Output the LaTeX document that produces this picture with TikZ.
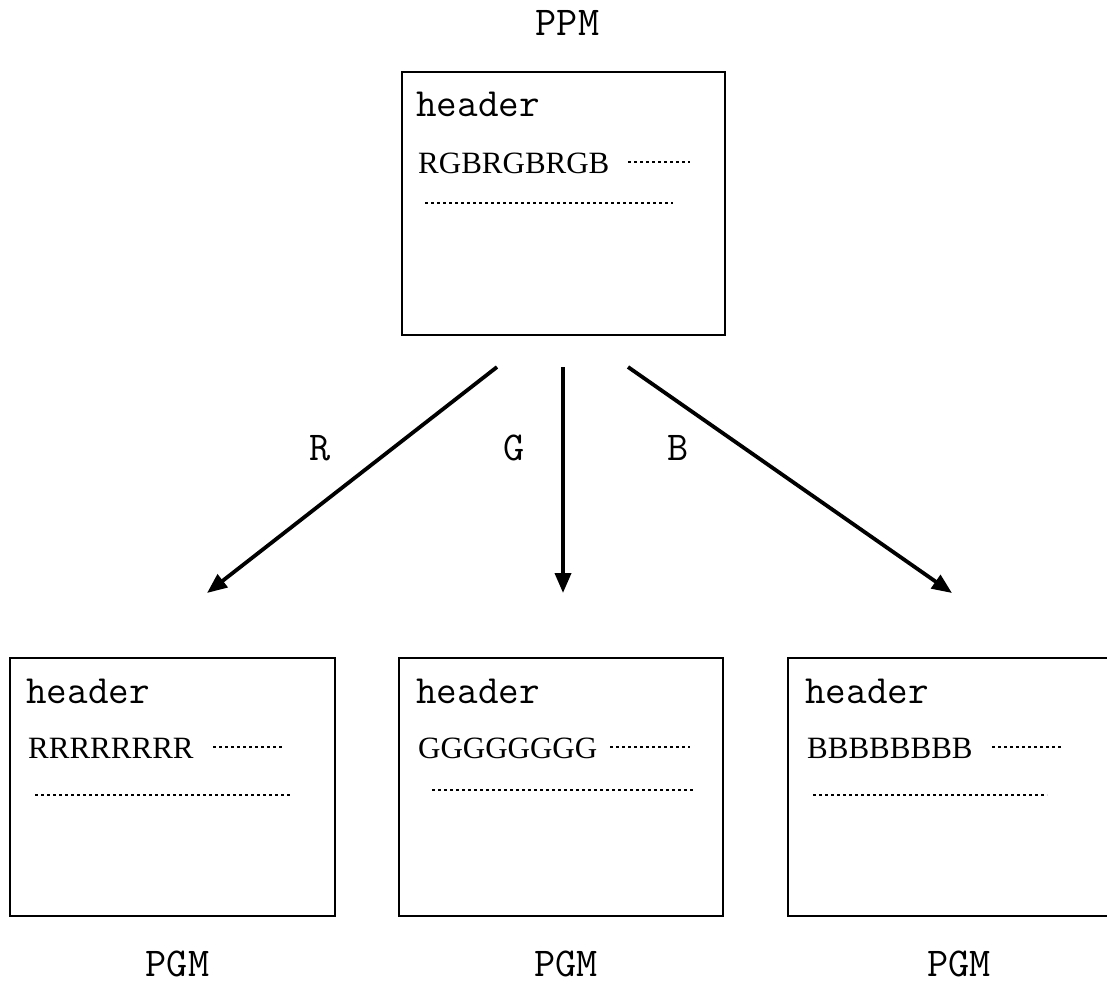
\documentclass[tikz,border=0pt]{standalone}
\usepackage{fontspec}
\setmainfont{Liberation Serif}
\usetikzlibrary{arrows.meta,positioning}

\begin{document}
\begin{tikzpicture}[
            x=1pt,y=-1pt,
            box/.style={draw,line width=2.8pt,inner sep=0pt},
            mono/.style={font=\fontsize{40}{42}\selectfont\ttfamily,inner sep=0pt},
            chan/.style={font=\fontsize{31}{34}\selectfont\rmfamily,inner sep=0pt},
            tag/.style={font=\fontsize{41}{44}\selectfont\ttfamily,inner sep=0pt},
            dotln/.style={line width=2.4pt,dash pattern=on 2.6pt off 3.4pt},
            arr/.style={line width=3.8pt,-{Triangle[length=20pt,width=16pt]}}
        ]
            \path[use as bounding box,fill=white] (0,0) rectangle (1107,984);

            % the colour image
            \node (ppm) at (563.5,203.5) [box,minimum width=323pt,minimum height=263pt] {};
            \node (ppmT) [above=35pt of ppm,xshift=4pt,tag] {PPM};
            \node (ppmH) at (416,117) [anchor=base west,mono] {header};
            \node (ppmD) at (418,174) [anchor=base west,chan] {RGBRGBRGB};
            \draw [dotln] (628,162) -- (690,162);
            \draw [dotln] (425,203) -- (673,203);

            % the three grey images
            \begin{scope}[
                every node/.style={box,minimum height=258pt}
            ]
                \node (pgmR) at (172.5,787) [minimum width=325pt] {};
                \node (pgmG) at (561,787)   [minimum width=324pt] {};
                \node (pgmB) at (959,787)   [minimum width=342pt] {};
            \end{scope}
            \node (pgmRT) [below=33pt of pgmR,xshift=5pt,tag] {PGM};
            \node (pgmGT) [below=33pt of pgmG,xshift=5pt,tag] {PGM};
            \node (pgmBT) [below=33pt of pgmB,tag]            {PGM};

            \node (pgmRH) at (26,703)  [anchor=base west,mono] {header};
            \node (pgmGH) at (416,703) [anchor=base west,mono] {header};
            \node (pgmBH) at (805,703) [anchor=base west,mono] {header};
            \node (pgmRD) at (28,758)  [anchor=base west,chan] {RRRRRRRR};
            \node (pgmGD) at (418,758) [anchor=base west,chan] {GGGGGGGG};
            \node (pgmBD) at (807,758) [anchor=base west,chan] {BBBBBBBB};
            \draw [dotln] (213,747) -- (283,747);
            \draw [dotln] (35,795)  -- (292,795);
            \draw [dotln] (610,747) -- (690,747);
            \draw [dotln] (432,790) -- (695,790);
            \draw [dotln] (992,747) -- (1062,747);
            \draw [dotln] (813,795) -- (1047,795);

            % channel split
            \coordinate (rS) at (497,367);
            \coordinate (rE) at (207,593);
            \coordinate (gS) at (563,367);
            \coordinate (gE) at (563,593);
            \coordinate (bS) at (628,367);
            \coordinate (bE) at (952,593);
            \draw [arr] (rS) -- (rE);
            \draw [arr] (gS) -- (gE);
            \draw [arr] (bS) -- (bE);
            \node (rL) at (320,448) [tag] {R};
            \node (gL) at (514,448) [tag] {G};
            \node (bL) at (678,448) [tag] {B};
        \end{tikzpicture}
\end{document}
